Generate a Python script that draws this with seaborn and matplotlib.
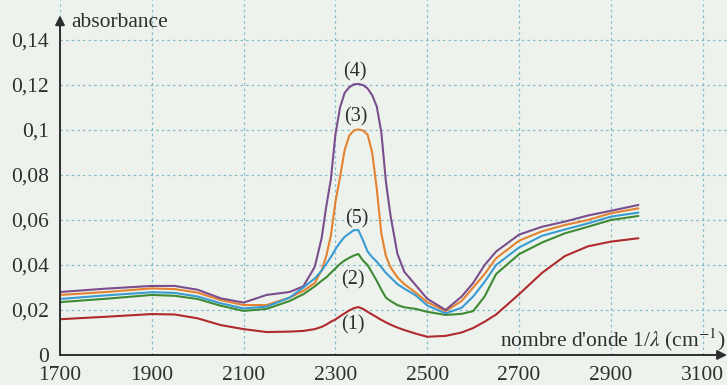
import numpy as np
import pandas as pd
import matplotlib
matplotlib.use("Agg")
import matplotlib.pyplot as plt
import seaborn as sns

# nombre d'onde (cm-1)
wave = [1700, 1800, 1900, 1950, 2000, 2050, 2100, 2150, 2200, 2230, 2255, 2270,
        2280, 2290, 2300, 2310, 2320, 2330, 2340, 2350, 2360, 2370, 2380, 2390,
        2400, 2410, 2420, 2435, 2450, 2475, 2500, 2540, 2575, 2600, 2625, 2650,
        2700, 2750, 2800, 2850, 2900, 2960]

# absorbance de chaque solution
abs1 = [0.0159, 0.0170, 0.0182, 0.0180, 0.0163, 0.0133, 0.0115, 0.0102, 0.0104, 0.0107,
        0.0115, 0.0125, 0.0135, 0.0148, 0.0158, 0.0172, 0.0185, 0.0198, 0.0208, 0.0213,
        0.0205, 0.0192, 0.0180, 0.0168, 0.0156, 0.0145, 0.0135, 0.0122, 0.0111, 0.0095,
        0.0081, 0.0085, 0.0100, 0.0120, 0.0148, 0.0180, 0.0270, 0.0365, 0.0440, 0.0483,
        0.0504, 0.0519]
abs2 = [0.0235, 0.0250, 0.0267, 0.0263, 0.0249, 0.0219, 0.0196, 0.0205, 0.0240, 0.0270,
        0.0305, 0.0330, 0.0345, 0.0365, 0.0385, 0.0405, 0.0420, 0.0432, 0.0442, 0.0449,
        0.0420, 0.0400, 0.0365, 0.0330, 0.0290, 0.0255, 0.0240, 0.0222, 0.0212, 0.0205,
        0.0192, 0.0178, 0.0183, 0.0195, 0.0260, 0.0360, 0.0448, 0.0500, 0.0541, 0.0570,
        0.0600, 0.0618]
abs3 = [0.0267, 0.0280, 0.0296, 0.0293, 0.0277, 0.0244, 0.0222, 0.0222, 0.0255, 0.0285,
        0.0320, 0.0378, 0.0440, 0.0530, 0.0680, 0.0790, 0.0910, 0.0975, 0.0998, 0.1003,
        0.0998, 0.0980, 0.0900, 0.0740, 0.0540, 0.0440, 0.0390, 0.0345, 0.0315, 0.0277,
        0.0235, 0.0195, 0.0240, 0.0300, 0.0360, 0.0430, 0.0508, 0.0550, 0.0578, 0.0600,
        0.0630, 0.0652]
abs4 = [0.0280, 0.0295, 0.0307, 0.0307, 0.0290, 0.0252, 0.0233, 0.0267, 0.0280, 0.0305,
        0.0392, 0.0520, 0.0660, 0.0780, 0.0980, 0.1100, 0.1165, 0.1190, 0.1203, 0.1205,
        0.1200, 0.1185, 0.1155, 0.1105, 0.0990, 0.0770, 0.0620, 0.0450, 0.0370, 0.0310,
        0.0250, 0.0200, 0.0260, 0.0320, 0.0400, 0.0460, 0.0535, 0.0570, 0.0593, 0.0620,
        0.0641, 0.0667]
abs5 = [0.0249, 0.0265, 0.0279, 0.0276, 0.0260, 0.0230, 0.0207, 0.0215, 0.0255, 0.0300,
        0.0340, 0.0375, 0.0405, 0.0435, 0.0470, 0.0500, 0.0525, 0.0540, 0.0555, 0.0555,
        0.0510, 0.0460, 0.0435, 0.0415, 0.0390, 0.0365, 0.0345, 0.0315, 0.0295, 0.0265,
        0.0220, 0.0185, 0.0210, 0.0260, 0.0325, 0.0400, 0.0478, 0.0530, 0.0558, 0.0585,
        0.0615, 0.0633]

names = ["(1)", "(2)", "(3)", "(4)", "(5)"]
colors = {"(1)": "#b02a2e", "(2)": "#3f8a35", "(3)": "#e38230",
          "(4)": "#7b4d8e", "(5)": "#3a9bd2"}
# position des etiquettes (x, y)
label_x = [2339, 2338, 2345, 2343, 2346]
label_y = [0.0133, 0.0333, 0.1060, 0.1260, 0.0607]

xticks = [1700, 1900, 2100, 2300, 2500, 2700, 2900, 3100]
yticks = [0, 0.02, 0.04, 0.06, 0.08, 0.1, 0.12, 0.14]
ylabels = ["0", "0,02", "0,04", "0,06", "0,08", "0,1", "0,12", "0,14"]

df = pd.concat([pd.DataFrame({"x": wave, "A": a, "sol": n})
                for a, n in zip([abs1, abs2, abs3, abs4, abs5], names)])

sns.set_theme(style="white")
plt.rcParams['font.family'] = ['Liberation Serif', 'DejaVu Serif']
plt.rcParams['mathtext.fontset'] = 'stix'

bg = "#edf3ec"
ink = "#2e2e2e"
fig = plt.figure(figsize=(7.27, 3.85), dpi=100, facecolor=bg)
ax = fig.add_axes([60 / 727, 30 / 385, 667 / 727, 355 / 385])
ax.set_facecolor(bg)

sns.lineplot(data=df, x="x", y="A", hue="sol", palette=colors, estimator=None,
             sort=False, linewidth=1.5, legend=False, ax=ax)

ax.set_xlim(1700, 3153)
ax.set_ylim(0, 0.1578)
ax.set_xticks(xticks)
ax.set_xticklabels([str(t) for t in xticks])
ax.set_yticks(yticks)
ax.set_yticklabels(ylabels)
ax.grid(True, color="#86bbce", linestyle=(0, (2, 2.5)), linewidth=0.9)
for s in ax.spines.values():
    s.set_visible(False)
ax.tick_params(axis="both", colors=ink, labelsize=15.5, width=1.2, length=7,
               direction="out", pad=1)
ax.tick_params(axis="x", pad=3, length=5)
ax.set_xlabel("")
ax.set_ylabel("")

# axes avec fleches
ax.annotate("", xy=(3153, 0), xytext=(1700, 0), annotation_clip=False,
            arrowprops=dict(arrowstyle="-|>", color=ink, lw=1.4,
                            mutation_scale=14, shrinkA=0, shrinkB=0))
ax.annotate("", xy=(1700, 0.151), xytext=(1700, 0), annotation_clip=False,
            arrowprops=dict(arrowstyle="-|>", color=ink, lw=1.4,
                            mutation_scale=14, shrinkA=0, shrinkB=0))

for n, lx, ly in zip(names, label_x, label_y):
    ax.text(lx, ly, n, ha="center", va="center", fontsize=14.5, color=ink)

ax.text(1724, 0.1458, "absorbance", ha="left", va="baseline", fontsize=15.5, color=ink)
ax.text(3150, 0.0036, "nombre d'onde 1/$\\lambda$ (cm$^{-1}$)", ha="right",
        va="baseline", fontsize=15.5, color=ink)

fig.savefig("out.png", dpi=100, facecolor=bg)
